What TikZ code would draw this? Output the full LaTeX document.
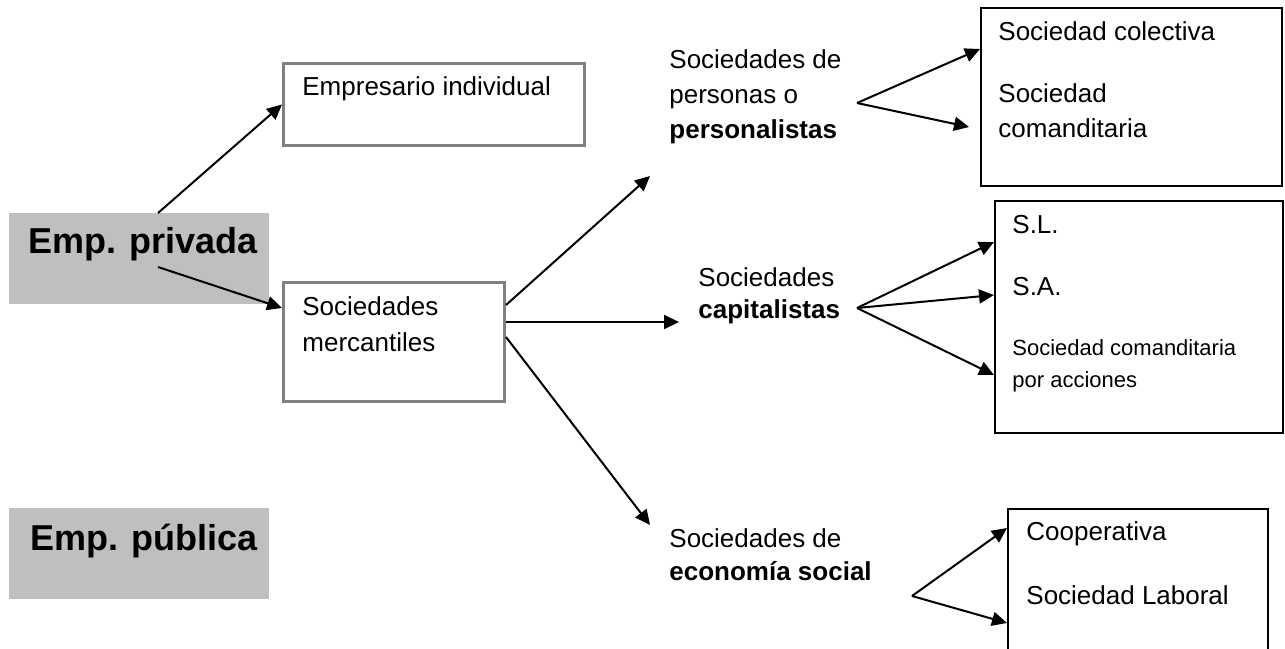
\documentclass[tikz,border=0pt]{standalone}
\usepackage{fontspec}
\setmainfont{Liberation Sans}
\usetikzlibrary{arrows.meta}

\begin{document}
\begin{tikzpicture}[x=0.5pt,y=-0.5pt,
  graybox/.style={anchor=north west,inner sep=0pt,fill=black!25,minimum width=130pt,minimum height=45.5pt},
  greyframe/.style={anchor=north west,inner sep=0pt,draw=black!50,line width=1.5pt},
  listbox/.style={anchor=north west,inner sep=0pt,draw=black,line width=1pt},
  headline/.style={anchor=base west,inner sep=0pt,font=\fontsize{18pt}{21pt}\selectfont\bfseries},
  lbl/.style={anchor=base west,inner sep=0pt,align=left,font=\fontsize{13pt}{17.5pt}\selectfont},
  arr/.style={-{Triangle[length=7.5pt,width=7pt]},line width=1pt}]
\useasboundingbox (0,0) rectangle (1285,648);

\node[graybox] (privada) at (9,213) {};
\node[graybox] (publica) at (9,508) {};
\node[headline] (privadatxt) at (28,253) {Emp. privada};
\node[headline] (publicatxt) at (30,550) {Emp. pública};

\node[greyframe,minimum width=150.5pt,minimum height=41pt] (empresario) at (282,62) {};
\node[greyframe,minimum width=110.5pt,minimum height=59.5pt] (mercantiles) at (282,281) {};
\node[lbl] (empresariotxt) at (302,95) {Empresario individual};
\node[lbl,font=\fontsize{13pt}{18pt}\selectfont] (mercantilestxt) at (302,351) {Sociedades\\mercantiles};

\node[lbl] (perso) at (669,138) {Sociedades de\\personas o\\\textbf{personalistas}};
\node[lbl,font=\fontsize{13pt}{16pt}\selectfont] (capital) at (698,318) {Sociedades\\\textbf{capitalistas}};
\node[lbl,font=\fontsize{13pt}{16.5pt}\selectfont] (social) at (669,580) {Sociedades de\\\textbf{economía social}};

\node[listbox,minimum width=150.5pt,minimum height=89pt] (colbox) at (980,7) {};
\node[listbox,minimum width=144pt,minimum height=116pt] (capbox) at (994,200) {};
\node[listbox,minimum width=130pt,minimum height=80pt] (socbox) at (1007,508) {};

\node[lbl] (colectivatxt) at (998,40) {Sociedad colectiva};
\node[lbl] (comanditariatxt) at (998,137) {Sociedad\\comanditaria};
\node[lbl] (sltxt) at (1012,233) {S.L.};
\node[lbl] (satxt) at (1012,295) {S.A.};
\node[lbl,font=\fontsize{11pt}{16pt}\selectfont] (accionestxt) at (1012,387) {Sociedad comanditaria\\por acciones};
\node[lbl] (cooperativatxt) at (1026,540) {Cooperativa};
\node[lbl] (laboraltxt) at (1026,604) {Sociedad Laboral};

\coordinate (persoin) at (650,176);
\coordinate (capin) at (679,322);
\coordinate (socialin) at (650,525);
\coordinate (persofan) at (857,103);
\coordinate (capfan) at (857,308);
\coordinate (socialfan) at (912,596);

\draw[arr] ([xshift=74.5pt]privada.north west) -- (empresario.west);
\draw[arr] ([shift={(74.5pt,-27pt)}]privada.north west) -- ([yshift=-13.5pt]mercantiles.north west);
\draw[arr] ([yshift=-12pt]mercantiles.north east) -- (persoin);
\draw[arr] (mercantiles.east |- capin) -- (capin);
\draw[arr] ([yshift=-28pt]mercantiles.north east) -- (socialin);

\draw[arr] (persofan) -- ([yshift=-21pt]colbox.north west);
\draw[arr] (persofan) -- ([shift={(-5.5pt,-60pt)}]colbox.north west);
\foreach \d in {21,47.5,87.5}
  \draw[arr] (capfan) -- ([yshift=-\d pt]capbox.north west);
\foreach \d in {10,57.5}
  \draw[arr] (socialfan) -- ([yshift=-\d pt]socbox.north west);
\end{tikzpicture}
\end{document}
